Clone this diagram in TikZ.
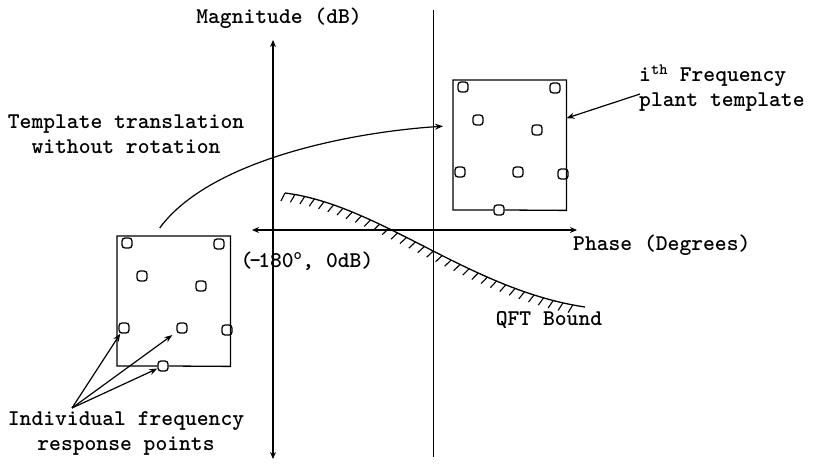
\documentclass[tikz,border=0pt]{standalone}
\usepackage{fontspec}
\usetikzlibrary{arrows.meta,positioning,calc,decorations.pathreplacing}

\tikzset{
  lbl/.style={font=\ttfamily\bfseries\fontsize{22.5}{25}\selectfont, align=center, inner sep=1pt},
  pt/.style={draw, rounded corners=3pt, minimum width=10pt, minimum height=10pt,
    inner sep=0pt, line width=1.3pt, fill=white},
  tpl/.style={minimum width=113pt, minimum height=130pt, inner sep=0pt},
  axis/.style={line width=1.5pt, {Stealth[length=7pt,width=6pt]}-{Stealth[length=7pt,width=6pt]}},
  arr/.style={line width=1.2pt, -{Stealth[length=8pt,width=6pt]}},
  hatch/.style={line width=1.1pt, decoration={border, segment length=10pt, amplitude=9pt, angle=-110}, decorate},
}

\begin{document}
\begin{tikzpicture}[x=1pt,y=-1pt]
  \fill[white] (0,0) rectangle (813,463);
  \useasboundingbox (0,0) rectangle (813,463);

  % axes
  \coordinate (mtop) at (273,40);
  \coordinate (mbot) at (273,459);
  \coordinate (pleft) at (252,230);
  \coordinate (pright) at (577,230);
  \draw[axis] (mbot) -- (mtop);
  \draw[axis] (pleft) -- (pright);
  \draw[line width=0.8pt] (433,10) -- (433,457);
  \node[lbl] (mag) at (279,18) {Magnitude (dB)};
  \node[lbl, anchor=west] (phase) at (572,245) {Phase (Degrees)};
  \node[lbl] (orig) at (307,261) {(\kern-3pt-\kern-3pt180\textsuperscript{o}, 0dB)};

  % QFT bound
  \draw[line width=1.3pt] (285,193) .. controls (380,205) and (470,290) .. (585,307);
  \draw[hatch] (285,193) .. controls (380,205) and (470,290) .. (585,307);
  \node[lbl] (qft) at (549,320) {QFT Bound};

  % plant templates
  \foreach \tp/\ox/\oy in {l/117/236, r/453/80} {
    \node[tpl, anchor=north west] (\tp box) at (\ox,\oy) {};
    \foreach \n/\dx/\dy in {1/10/7, 2/102/8, 3/25/40, 4/84/50,
                            5/7/92, 6/65/92, 7/110/94, 8/46/130}
      \node[pt] (\tp p\n) at (\ox+\dx,\oy+\dy) {};
    \draw[line width=1.3pt] (\tp p8.west) -| (\tp box.north west) -| (\tp box.south east) -- (\tp p8.east);
  }

  % labels and arrows
  \node[lbl] (trans) at (126,134) {Template translation\\without rotation};
  \draw[arr] ([shift={(-14,-8)}]lbox.north) .. controls +(50,-68) and +(-93,6) .. ([shift={(-10,-19)}]rbox.west);

  \node[lbl, align=left, anchor=west] (ith) at (638,88) {i\textsuperscript{th} Frequency\\plant template};
  \draw[arr] ([shift={(2,6)}]ith.west) -- ([shift={(0,-27)}]rbox.east);

  \node[lbl] (indiv) at (126,433) {Individual frequency\\response points};
  \coordinate (src) at (72,408);
  \draw[arr] (src) -- (lp5);
  \draw[arr, shorten >=5pt] (src) -- (lp6);
  \draw[arr] (src) -- (lp8);
\end{tikzpicture}
\end{document}
